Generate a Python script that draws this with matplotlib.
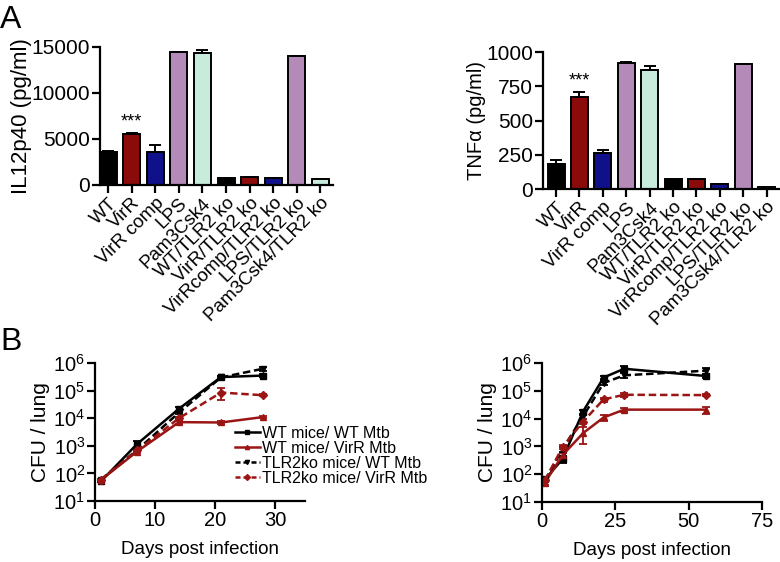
import numpy as np
import matplotlib
matplotlib.use("Agg")
import matplotlib.pyplot as plt
from matplotlib.lines import Line2D
from matplotlib.ticker import LogLocator, LogFormatterMathtext, NullLocator

plt.rcParams['font.family'] = ['Liberation Sans', 'DejaVu Sans']
plt.rcParams['mathtext.default'] = 'regular'

# ---- data ----
groups = ["WT", "VirR", "VirR comp", "LPS", "Pam3Csk4", "WT/TLR2 ko", "VirR/TLR2 ko",
          "VirRcomp/TLR2 ko", "LPS/TLR2 ko", "Pam3Csk4/TLR2 ko"]
il12_mean = [3600, 5500, 3600, 14500, 14400, 800, 850, 750, 14000, 700]
il12_err = [100, 100, 700, 0, 300, 0, 0, 0, 0, 0]
tnf_mean = [185, 675, 265, 920, 870, 70, 75, 40, 910, 15]
tnf_err = [30, 35, 20, 10, 30, 0, 0, 0, 5, 0]
bar_colors = ["#000000", "#8b0a0a", "#10108a", "#b48ab8", "#c8ecdc",
              "#000000", "#8b0a0a", "#10108a", "#b48ab8", "#c8ecdc"]

series_names = ["WT mice/ WT Mtb", "WT mice/ VirR Mtb",
                "TLR2ko mice/ WT Mtb", "TLR2ko mice/ VirR Mtb"]

days_short = [1, 7, 14, 21, 28]
wt_wt_s = [52, 1150, 22000, 310000, 350000]
wt_wt_s_err = [5, 350, 3000, 30000, 40000]
wt_vir_s = [58, 620, 7200, 7000, 11000]
wt_vir_s_err = [5, 80, 800, 800, 1000]
ko_wt_s = [60, 700, 16000, 300000, 620000]
ko_wt_s_err = [5, 80, 2000, 30000, 100000]
ko_vir_s = [60, 680, 10000, 85000, 68000]
ko_vir_s_err = [5, 80, 1500, 40000, 6000]

days_long = [1, 7, 14, 21, 28, 56]
wt_wt_l = [65, 350, 18000, 300000, 620000, 340000]
wt_wt_l_err = [10, 100, 3000, 40000, 150000, 50000]
wt_vir_l = [50, 480, 3000, 11000, 21000, 21000]
wt_vir_l_err = [8, 80, 1800, 2500, 4000, 6000]
ko_wt_l = [60, 800, 12000, 190000, 360000, 530000]
ko_wt_l_err = [8, 150, 2000, 30000, 80000, 120000]
ko_vir_l = [60, 950, 7800, 49000, 72000, 70000]
ko_vir_l_err = [8, 150, 1500, 8000, 10000, 5000]

lw = 1.6
red = "#9b1515"
line_styles = [("black", "-", "s"), (red, "-", "^"), ("black", "--", "v"), (red, "--", "D")]

fig = plt.figure(figsize=(7.8, 5.62), dpi=100)
W, H = 780.0, 562.0


def px_axes(l, t, r, b):
    return fig.add_axes([l / W, 1 - b / H, (r - l) / W, (b - t) / H])


def style(ax, size):
    for s in ["top", "right"]:
        ax.spines[s].set_visible(False)
    for s in ["left", "bottom"]:
        ax.spines[s].set_linewidth(lw)
    ax.tick_params(width=lw, length=6, labelsize=size, pad=1)


def bar_panel(ax, mean, err, ylim, yticks, ylabel, ylabel_size, star_y, xlim):
    x = np.arange(len(groups))
    ax.bar(x, mean, width=0.72, color=bar_colors, edgecolor="black", linewidth=1.4, zorder=2)
    yerr = np.array([np.zeros(len(err)), err])
    ax.errorbar(x, mean, yerr=yerr, fmt="none", ecolor="black", elinewidth=1.4,
                capsize=4, capthick=1.4, zorder=1)
    ax.set_xlim(*xlim)
    ax.set_ylim(*ylim)
    ax.set_yticks(yticks)
    ax.set_xticks(x)
    style(ax, 15)
    ax.set_xticklabels(groups, rotation=45, ha="right", rotation_mode="anchor", fontsize=13.5)
    ax.set_ylabel(ylabel, fontsize=ylabel_size, labelpad=0)
    ax.text(1, star_y, "***", ha="center", va="bottom", fontsize=13)


ax1 = px_axes(100, 47, 333, 185)
bar_panel(ax1, il12_mean, il12_err, (0, 15000), [0, 5000, 10000, 15000],
          "IL12p40 (pg/ml)", 16, 5900, (-0.34, 9.53))

ax2 = px_axes(543, 52, 780, 189)
bar_panel(ax2, tnf_mean, tnf_err, (0, 1000), [0, 250, 500, 750, 1000],
          "TNF\u03b1 (pg/ml)", 14.5, 730, (-0.56, 9.57))


def cfu_panel(ax, days, values, errs, xlim, xticks):
    for y, e, (color, ls, mk), label in zip(values, errs, line_styles, series_names):
        ax.errorbar(days, y, yerr=e, color=color, ls=ls, marker=mk, ms=4.5, lw=1.8,
                    elinewidth=1.3, capsize=3, capthick=1.3, label=label,
                    dashes=(3, 1.5) if ls == "--" else (None, None))
    ax.set_yscale("log")
    ax.set_ylim(10, 1e6)
    ax.yaxis.set_major_locator(LogLocator(base=10, numticks=10))
    ax.yaxis.set_major_formatter(LogFormatterMathtext())
    ax.yaxis.set_minor_locator(NullLocator())
    ax.set_xlim(*xlim)
    ax.set_xticks(xticks)
    style(ax, 14.5)
    ax.set_ylabel("CFU / lung", fontsize=15, labelpad=2)
    ax.set_xlabel("Days post infection", fontsize=13.5, labelpad=8)


ax3 = px_axes(95, 363, 305, 501)
cfu_panel(ax3, days_short, [wt_wt_s, wt_vir_s, ko_wt_s, ko_vir_s],
          [wt_wt_s_err, wt_vir_s_err, ko_wt_s_err, ko_vir_s_err], (0, 35), [0, 10, 20, 30])

# legend: plain line handles, no error bars
handles = [Line2D([], [], color=c, ls=ls, marker=mk, ms=3, lw=1.8,
                  dashes=(2, 1.2) if ls == "--" else (None, None))
           for c, ls, mk in line_styles]
leg = ax3.legend(handles, series_names, loc="upper left", bbox_to_anchor=(0.665, 0.545),
                 frameon=False, fontsize=11.5, handlelength=1.6, handletextpad=0.1,
                 labelspacing=0.0, borderaxespad=0, borderpad=0)

ax4 = px_axes(542, 363, 762, 502)
cfu_panel(ax4, days_long, [wt_wt_l, wt_vir_l, ko_wt_l, ko_vir_l],
          [wt_wt_l_err, wt_vir_l_err, ko_wt_l_err, ko_vir_l_err], (0, 75), [0, 25, 50, 75])

fig.text(0 / W, 1 - 5 / H, "A", fontsize=23, va="top", ha="left")
fig.text(0 / W, 1 - 327 / H, "B", fontsize=23, va="top", ha="left")

fig.savefig("out.png", dpi=100)
